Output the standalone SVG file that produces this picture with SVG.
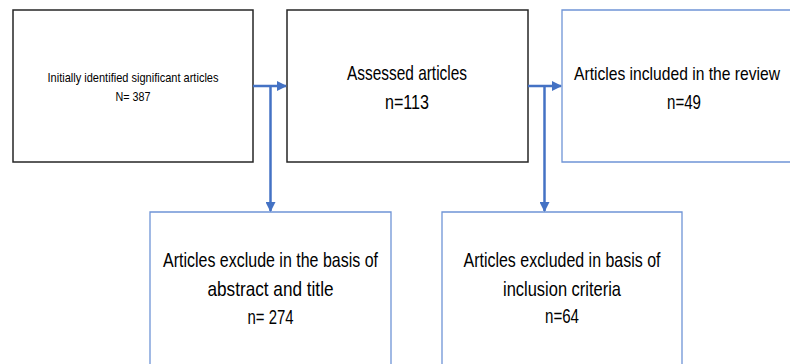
<svg xmlns="http://www.w3.org/2000/svg" width="790" height="364" viewBox="0 0 790 364">
  <style>
    .dark { fill: #ffffff; stroke: #262626; stroke-width: 1.5; }
    .blue { fill: #ffffff; stroke: #6f94d6; stroke-width: 1.3; }
    .t { font-family: "Liberation Sans Narrow", "Liberation Sans", sans-serif; fill: #000000; text-anchor: middle; }
    .big { font-size: 21px; }
    .small { font-size: 13.5px; }
    .conn { fill: none; stroke: #4472c4; stroke-width: 2.5; }
  </style>
  <defs>
    <marker id="arrow" viewBox="0 0 10 10" refX="9" refY="5" markerWidth="4" markerHeight="4" orient="auto" markerUnits="strokeWidth">
      <path d="M0,0 L10,5 L0,10 z" fill="#4472c4"/>
    </marker>
  </defs>
  <rect width="790" height="364" fill="#ffffff"/>

  <g id="node-identified">
    <rect class="dark" x="13" y="10" width="240" height="152"/>
    <text class="t small" x="133" y="82" textLength="171" lengthAdjust="spacingAndGlyphs">Initially identified significant articles</text>
    <text class="t small" x="133" y="101" textLength="35" lengthAdjust="spacingAndGlyphs">N= 387</text>
  </g>

  <g id="node-assessed">
    <rect class="dark" x="287" y="10" width="241" height="152"/>
    <text class="t big" x="407" y="80" textLength="120" lengthAdjust="spacingAndGlyphs">Assessed articles</text>
    <text class="t big" x="407" y="109" textLength="44" lengthAdjust="spacingAndGlyphs">n=113</text>
  </g>

  <g id="node-included">
    <path class="blue" d="M790,10 L562,10 L562,162 L790,162"/>
    <text class="t" x="574" y="80" style="text-anchor:start; font-size:19px" textLength="206" lengthAdjust="spacingAndGlyphs">Articles included in the review</text>
    <text class="t big" x="684" y="109" textLength="34" lengthAdjust="spacingAndGlyphs">n=49</text>
  </g>

  <g id="node-excluded-abstract">
    <path class="blue" d="M150,364 L150,212 L391,212 L391,364"/>
    <text class="t big" x="270.5" y="267" textLength="215" lengthAdjust="spacingAndGlyphs">Articles exclude in the basis of</text>
    <text class="t big" x="270.5" y="296" textLength="126" lengthAdjust="spacingAndGlyphs">abstract and title</text>
    <text class="t big" x="270.5" y="324" textLength="46" lengthAdjust="spacingAndGlyphs">n= 274</text>
  </g>

  <g id="node-excluded-criteria">
    <path class="blue" d="M442,364 L442,212 L682,212 L682,364"/>
    <text class="t big" x="562" y="267" textLength="197" lengthAdjust="spacingAndGlyphs">Articles excluded in basis of</text>
    <text class="t big" x="562" y="296" textLength="118" lengthAdjust="spacingAndGlyphs">inclusion criteria</text>
    <text class="t big" x="562" y="323" textLength="34" lengthAdjust="spacingAndGlyphs">n=64</text>
  </g>

  <g id="connectors">
    <line class="conn" x1="253" y1="86" x2="286" y2="86" marker-end="url(#arrow)"/>
    <line class="conn" x1="270.5" y1="86" x2="270.5" y2="211" marker-end="url(#arrow)"/>
    <line class="conn" x1="528" y1="86" x2="561" y2="86" marker-end="url(#arrow)"/>
    <line class="conn" x1="544.5" y1="86" x2="544.5" y2="211" marker-end="url(#arrow)"/>
  </g>
</svg>
